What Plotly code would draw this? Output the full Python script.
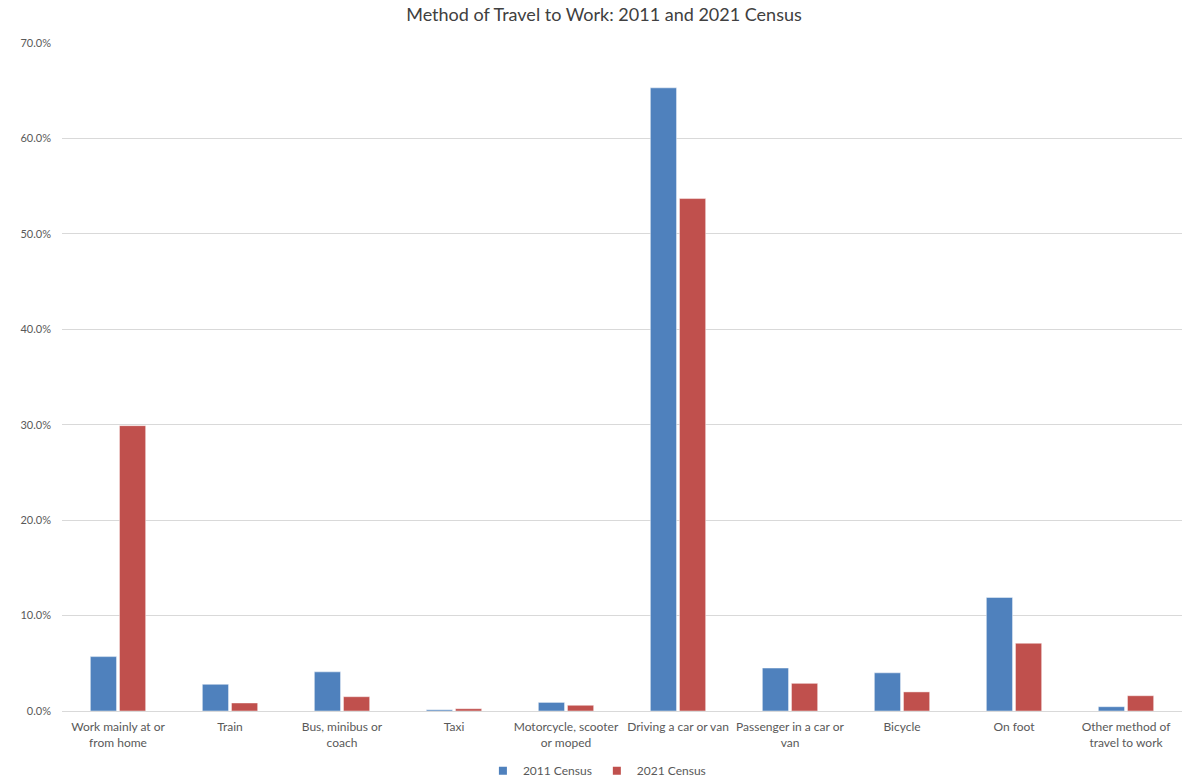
import plotly.graph_objects as go

# Share of working residents by method of travel to work (%)
categories = [
    "Work mainly at or<br>from home",
    "Train",
    "Bus, minibus or<br>coach",
    "Taxi",
    "Motorcycle, scooter<br>or moped",
    "Driving a car or van",
    "Passenger in a car or<br>van",
    "Bicycle",
    "On foot",
    "Other method of<br>travel to work",
]
census_2011 = [5.7, 2.8, 4.1, 0.13, 0.9, 65.3, 4.5, 4.0, 11.9, 0.45]
census_2021 = [29.9, 0.84, 1.5, 0.24, 0.6, 53.7, 2.9, 2.0, 7.1, 1.6]

series_names = ["2011 Census", "2021 Census"]
series_colors = ["#4F81BD", "#C0504D"]

tick_vals = [0, 10, 20, 30, 40, 50, 60, 70]
tick_text = ["0.0%", "10.0%", "20.0%", "30.0%", "40.0%", "50.0%", "60.0%", "70.0%"]

FONT = "Lato"

fig = go.Figure()
for name, color, values in zip(series_names, series_colors, [census_2011, census_2021]):
    fig.add_trace(go.Bar(
        name=name, x=categories, y=values, showlegend=False,
        marker=dict(color=color, line=dict(color="rgba(255,255,255,0.45)", width=1)),
    ))
    # small square legend keys
    fig.add_trace(go.Scatter(
        name=name, x=[None], y=[None], mode="markers",
        marker=dict(symbol="square", size=8, color=color),
    ))

fig.update_layout(
    width=1182, height=777,
    margin=dict(l=62, r=0, t=43, b=66, autoexpand=False),
    paper_bgcolor="white", plot_bgcolor="white",
    barmode="group", bargap=0.48, bargroupgap=0.1,
    font=dict(family=FONT, size=12, color="#595959"),
    title=dict(text="Method of Travel to Work: 2011 and 2021 Census",
               xref="container", x=0.511, xanchor="center",
               yref="container", y=0.981, yanchor="middle",
               font=dict(family=FONT, size=18, color="#404040")),
    legend=dict(orientation="h", xref="container", x=0.505, xanchor="center",
                yref="container", y=0.008, yanchor="middle",
                font=dict(family=FONT, size=12, color="#595959"),
                itemwidth=30, traceorder="normal"),
    showlegend=True,
)
fig.update_xaxes(showline=False, ticks="", tickfont=dict(size=12, color="#595959"),
                 ticklabelstandoff=7)
fig.update_yaxes(range=[0, 70], tickvals=tick_vals, ticktext=tick_text,
                 showgrid=True, gridcolor="#D9D9D9", gridwidth=1,
                 zeroline=True, zerolinecolor="#D9D9D9", zerolinewidth=1,
                 ticks="", tickfont=dict(size=11, color="#595959"),
                 ticklabelstandoff=10)

fig.write_html("out.html")
